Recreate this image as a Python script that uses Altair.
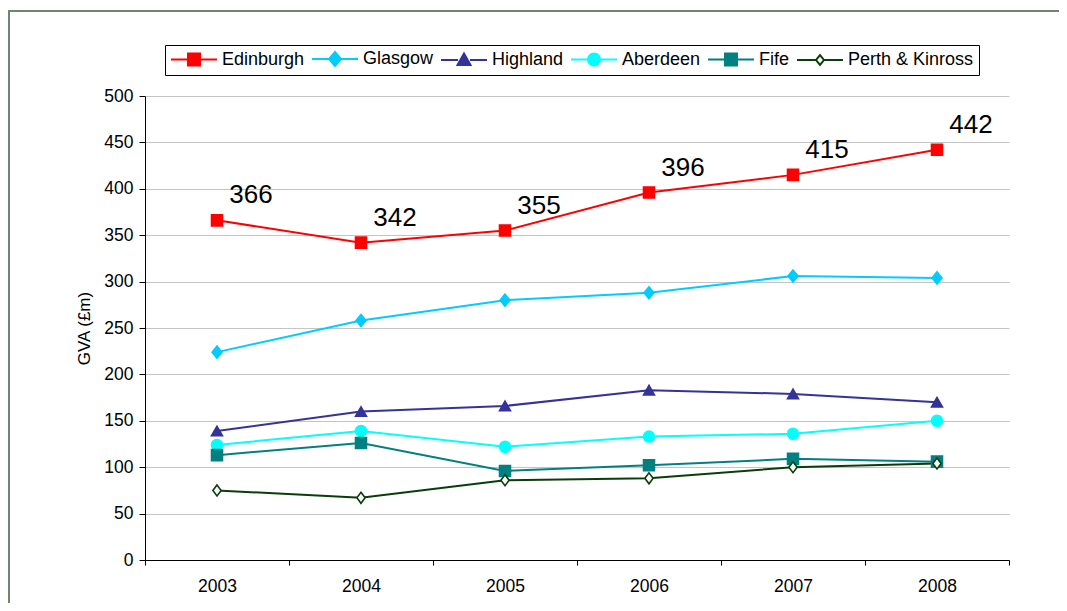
import altair as alt
import pandas as pd

years = ["2003", "2004", "2005", "2006", "2007", "2008"]
series = ["Edinburgh", "Glasgow", "Highland", "Aberdeen", "Fife", "Perth & Kinross"]
edinburgh = [366, 342, 355, 396, 415, 442]
glasgow = [224, 258, 280, 288, 306, 304]
highland = [139, 160, 166, 183, 179, 170]
aberdeen = [124, 139, 122, 133, 136, 150]
fife = [113, 126, 96, 102, 109, 106]
perth = [75, 67, 86, 88, 100, 104]
values = [edinburgh, glasgow, highland, aberdeen, fife, perth]
labelled = "Edinburgh"

colors = ["#FF0000", "#00CCFF", "#333399", "#00FFFF", "#008080", "#0B3D0B"]
fills = ["#FF0000", "#00CCFF", "#333399", "#00FFFF", "#008080", "#FFFFFF"]
shapes = ["square", "M0,-1.1L0.9,0L0,1.1L-0.9,0Z", "triangle-up", "circle", "square",
          "M0,-1L0.75,0L0,1L-0.75,0Z"]

# legend symbol geometry (pixels), converted to unit coordinates of the symbol
SYM = 196
R = SYM ** 0.5 / 2
HALF_LINE = 23


def u(v):
    return f"{v / R:.3f}"


def with_line(gap, marker):
    return f"M{u(-HALF_LINE)},0H{u(-gap)}M{u(gap)},0H{u(HALF_LINE)}" + marker


legend_shapes = [
    with_line(6, f"M{u(-6)},{u(-6)}H{u(6)}V{u(6)}H{u(-6)}Z"),
    with_line(6, f"M0,{u(-7)}L{u(6)},0L0,{u(7)}L{u(-6)},0Z"),
    with_line(6, f"M0,{u(-6.5)}L{u(6.5)},{u(5)}H{u(-6.5)}Z"),
    with_line(6, f"M{u(6)},0A{u(6)},{u(6)},0,1,1,{u(-6)},0A{u(6)},{u(6)},0,1,1,{u(6)},0Z"),
    with_line(6, f"M{u(-6)},{u(-6)}H{u(6)}V{u(6)}H{u(-6)}Z"),
    with_line(4.5, f"M0,{u(-5)}L{u(4)},0L0,{u(5)}L{u(-4)},0Z"),
]

rows = []
for s, vals in zip(series, values):
    for y, v in zip(years, vals):
        rows.append({"year": y, "series": s, "gva": v})
df = pd.DataFrame(rows)

FONT = "Liberation Sans"

x = alt.X("year:O", title=None,
          scale=alt.Scale(paddingInner=0, paddingOuter=0),
          axis=alt.Axis(labelAngle=0, tickBand="extent", grid=False,
                        domainColor="black", tickColor="black", tickSize=5,
                        labelFontSize=17.5, labelPadding=12, labelColor="black",
                        labelFont=FONT))
y = alt.Y("gva:Q", title="GVA (£m)",
          scale=alt.Scale(domain=[0, 500], nice=False),
          axis=alt.Axis(values=list(range(0, 501, 50)), grid=True,
                        gridColor="#c4c4c4", domainColor="black", tickColor="black",
                        tickSize=6, labelFontSize=17.5, labelPadding=6,
                        labelColor="black", labelFont=FONT,
                        titleFont=FONT, titleFontSize=17, titleFontWeight="normal",
                        titleColor="black", titlePadding=10))

base = alt.Chart(df)

lines = base.mark_line(strokeWidth=2).encode(
    x=x, y=y,
    color=alt.Color("series:N", scale=alt.Scale(domain=series, range=colors), legend=None),
    detail="series:N",
)

points = base.mark_point(filled=False, size=120, strokeWidth=1.6, opacity=1).encode(
    x=x, y=y,
    shape=alt.Shape("series:N", scale=alt.Scale(domain=series, range=shapes), legend=None),
    stroke=alt.Stroke("series:N", scale=alt.Scale(domain=series, range=colors), legend=None),
    fill=alt.Fill("series:N", scale=alt.Scale(domain=series, range=fills), legend=None),
)

leg = alt.Legend(title=None, orient="none", legendX=20, legendY=-51,
                 direction="horizontal", columns=6, symbolSize=SYM,
                 symbolStrokeWidth=2, symbolOffset=15, labelFontSize=18,
                 labelFont=FONT, labelColor="black", labelOffset=19,
                 columnPadding=2, padding=5, strokeColor="black",
                 fillColor="white", symbolOpacity=1, labelLimit=300)

legend_layer = base.mark_point(filled=False, strokeWidth=2, opacity=1).encode(
    x=x, y=y,
    shape=alt.Shape("series:N", scale=alt.Scale(domain=series, range=legend_shapes), legend=leg),
    stroke=alt.Stroke("series:N", scale=alt.Scale(domain=series, range=colors), legend=leg),
    fill=alt.Fill("series:N", scale=alt.Scale(domain=series, range=fills), legend=leg),
).transform_filter("false")

labels = base.mark_text(fontSize=26, font=FONT, color="black", dx=34, dy=-17,
                        align="center", baseline="alphabetic").encode(
    x=x, y=y, text=alt.Text("gva:Q", format="d"),
).transform_filter(alt.datum.series == labelled)

frame_data = alt.Chart(pd.DataFrame({"f": [0]}))
frame_top = frame_data.mark_rect(fill="#6d8572").encode(
    x=alt.value(-137), x2=alt.value(914), y=alt.value(-86), y2=alt.value(-84))
frame_left = frame_data.mark_rect(fill="#6d8572").encode(
    x=alt.value(-137), x2=alt.value(-135), y=alt.value(-86), y2=alt.value(507))

chart = alt.layer(frame_top, frame_left, lines, points, labels, legend_layer).resolve_scale(
    shape="independent", stroke="independent", fill="independent"
).properties(
    width=864, height=464,
    padding={"left": 137, "top": 88, "right": 50, "bottom": 43},
    autosize=alt.AutoSizeParams(type="none"),
    background="white",
).configure_view(stroke=None)

chart.save("out.html", embed_options={"renderer": "svg", "actions": False})
